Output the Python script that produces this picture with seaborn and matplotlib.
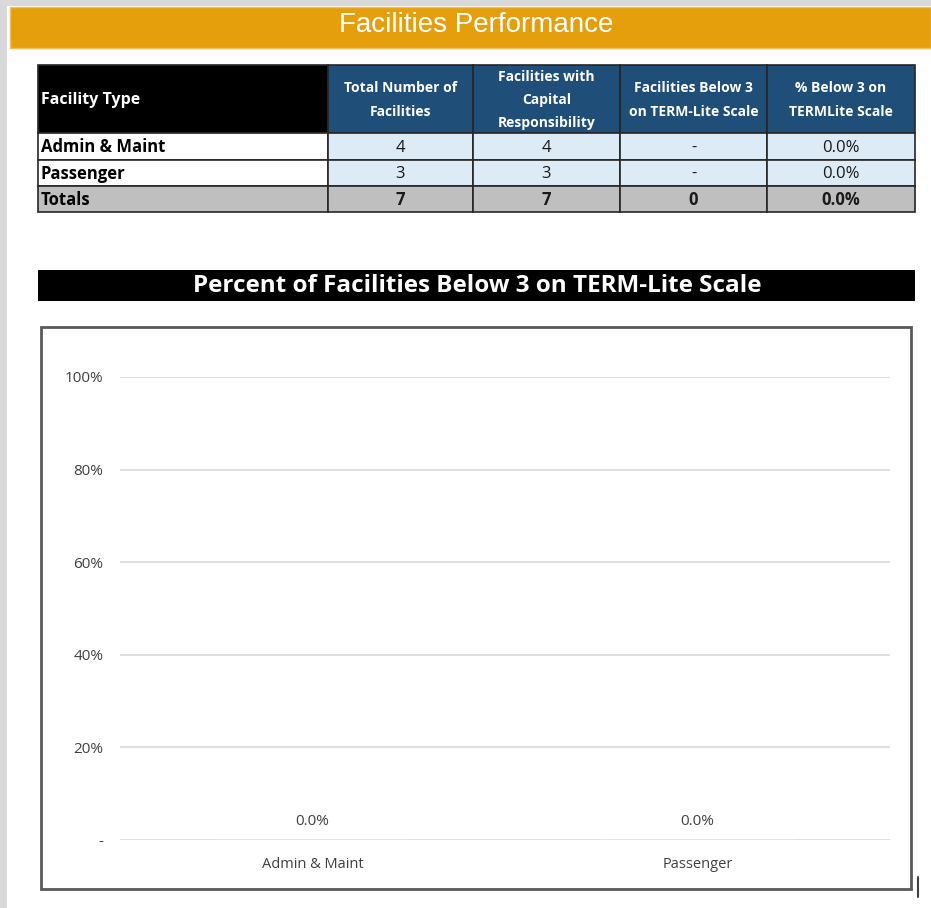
import matplotlib
matplotlib.use("Agg")
import matplotlib.pyplot as plt
from matplotlib.patches import Rectangle
from matplotlib.ticker import FuncFormatter
import seaborn as sns
import pandas as pd

# ---------------- data ----------------
page_title = "Facilities Performance"
chart_title = "Percent of Facilities Below 3 on TERM-Lite Scale"
header_labels = [
    ["Facility Type"],
    ["Total Number of", "Facilities"],
    ["Facilities with", "Capital", "Responsibility"],
    ["Facilities Below 3", "on TERM-Lite Scale"],
    ["% Below 3 on", "TERMLite Scale"],
]
facility_types = ["Admin & Maint", "Passenger"]
total_facilities = [4, 3]
capital_responsibility = [4, 3]
below_3 = [0, 0]
pct_below_3 = [0.0, 0.0]
y_ticks = [0.0, 0.2, 0.4, 0.6, 0.8, 1.0]

sns.set_theme(style="white")
plt.rcParams["font.family"] = ["Open Sans", "DejaVu Sans"]

W, H = 931, 908
fig = plt.figure(figsize=(W / 100, H / 100), dpi=100)
fig.patch.set_facecolor("#d9d9d9")
bg = fig.add_axes([0, 0, 1, 1])
bg.set_xlim(0, W)
bg.set_ylim(H, 0)
bg.axis("off")

# white page
bg.add_patch(Rectangle((7, 6), W - 7, H - 6, facecolor="white", edgecolor="none"))
# orange banner
bg.add_patch(Rectangle((10, 7), W - 10, 41, facecolor="#e59f0d", edgecolor="#f0c060", lw=1))
bg.text(476, 25, page_title, color="white", fontsize=20, ha="center", va="center",
        family=["Liberation Sans", "DejaVu Sans"])

# ---------------- table ----------------
col_x = [38, 328, 473, 620, 767, 915]
row_y = [65, 133, 160, 186, 212]
header_blue = "#1f4e79"
light_blue = "#ddebf7"
total_gray = "#bfbfbf"
grid_c = "#262626"


def fmt_count(v, total=False):
    if v == 0 and not total:
        return "-"
    return f"{v:d}"


def fmt_pct(v):
    return f"{v * 100:.1f}%"


tot_total = sum(total_facilities)
tot_cap = sum(capital_responsibility)
tot_below = sum(below_3)
tot_pct = tot_below / tot_total if tot_total else 0.0

rows = []
for i, name in enumerate(facility_types):
    rows.append([name, fmt_count(total_facilities[i]), fmt_count(capital_responsibility[i]),
                 fmt_count(below_3[i]), fmt_pct(pct_below_3[i])])
rows.append(["Totals", str(tot_total), str(tot_cap), fmt_count(tot_below, True), fmt_pct(tot_pct)])

# header
for c in range(5):
    x0, x1 = col_x[c], col_x[c + 1]
    fc = "black" if c == 0 else header_blue
    bg.add_patch(Rectangle((x0, row_y[0]), x1 - x0, row_y[1] - row_y[0], facecolor=fc,
                           edgecolor=grid_c, lw=1.2))
    lines = header_labels[c]
    n = len(lines)
    for k, line in enumerate(lines):
        yy = 100 + (k - (n - 1) / 2) * 23
        if c == 0:
            bg.text(x0 + 3, yy, line, color="white", fontsize=11.5, fontweight="bold",
                    ha="left", va="center")
        else:
            bg.text((x0 + x1) / 2, yy, line, color="white", fontsize=10, fontweight="bold",
                    ha="center", va="center")

# body
for r, row in enumerate(rows):
    y0, y1 = row_y[r + 1], row_y[r + 2]
    is_total = r == len(rows) - 1
    for c in range(5):
        x0, x1 = col_x[c], col_x[c + 1]
        if is_total:
            fc = total_gray
        else:
            fc = "white" if c == 0 else light_blue
        bg.add_patch(Rectangle((x0, y0), x1 - x0, y1 - y0, facecolor=fc,
                               edgecolor=grid_c, lw=1.2))
        weight = "bold" if (is_total or c == 0) else "normal"
        if c == 0:
            bg.text(x0 + 3, (y0 + y1) / 2 + 1, row[c], color="black", fontsize=12,
                    fontweight=weight, ha="left", va="center")
        else:
            bg.text((x0 + x1) / 2, (y0 + y1) / 2 + 1, row[c], color="#1a1a1a", fontsize=12,
                    fontweight=weight, ha="center", va="center")

# ---------------- chart title bar ----------------
bg.add_patch(Rectangle((38, 270), 877, 31, facecolor="black", edgecolor="none"))
bg.text(477, 286, chart_title, color="white", fontsize=17.5, fontweight="bold",
        ha="center", va="center")

# chart box
bg.add_patch(Rectangle((41, 327), 870, 562, facecolor="white", edgecolor="#595959", lw=2))
bg.plot([918, 918], [877, 897], color="#404040", lw=1.5)

# ---------------- bar chart ----------------
ax_l, ax_r, ax_t, ax_b = 120, 890, 377, 840
ax = fig.add_axes([ax_l / W, 1 - ax_b / H, (ax_r - ax_l) / W, (ax_b - ax_t) / H])
ax.set_facecolor("none")
df = pd.DataFrame({"Facility Type": facility_types, "Pct": pct_below_3})
sns.barplot(data=df, x="Facility Type", y="Pct", ax=ax, color="#4472c4", width=0.5)
ax.set_ylim(0, 1.0)
ax.set_yticks(y_ticks)
ax.yaxis.set_major_formatter(FuncFormatter(lambda v, p: "-" if v == 0 else f"{v * 100:.0f}%"))
ax.grid(axis="y", color="#d9d9d9", lw=1.2)
ax.set_axisbelow(True)
for s in ax.spines.values():
    s.set_visible(False)
ax.tick_params(axis="both", length=0, labelsize=10.5, colors="#404040")
ax.tick_params(axis="y", labelsize=11, pad=12)
ax.tick_params(axis="x", pad=12)
ax.set_xlabel("")
ax.set_ylabel("")
for cont in ax.containers:
    ax.bar_label(cont, labels=[fmt_pct(v) for v in pct_below_3], padding=8,
                 fontsize=11, color="#404040")

fig.savefig("out.png", dpi=100, facecolor=fig.get_facecolor())
